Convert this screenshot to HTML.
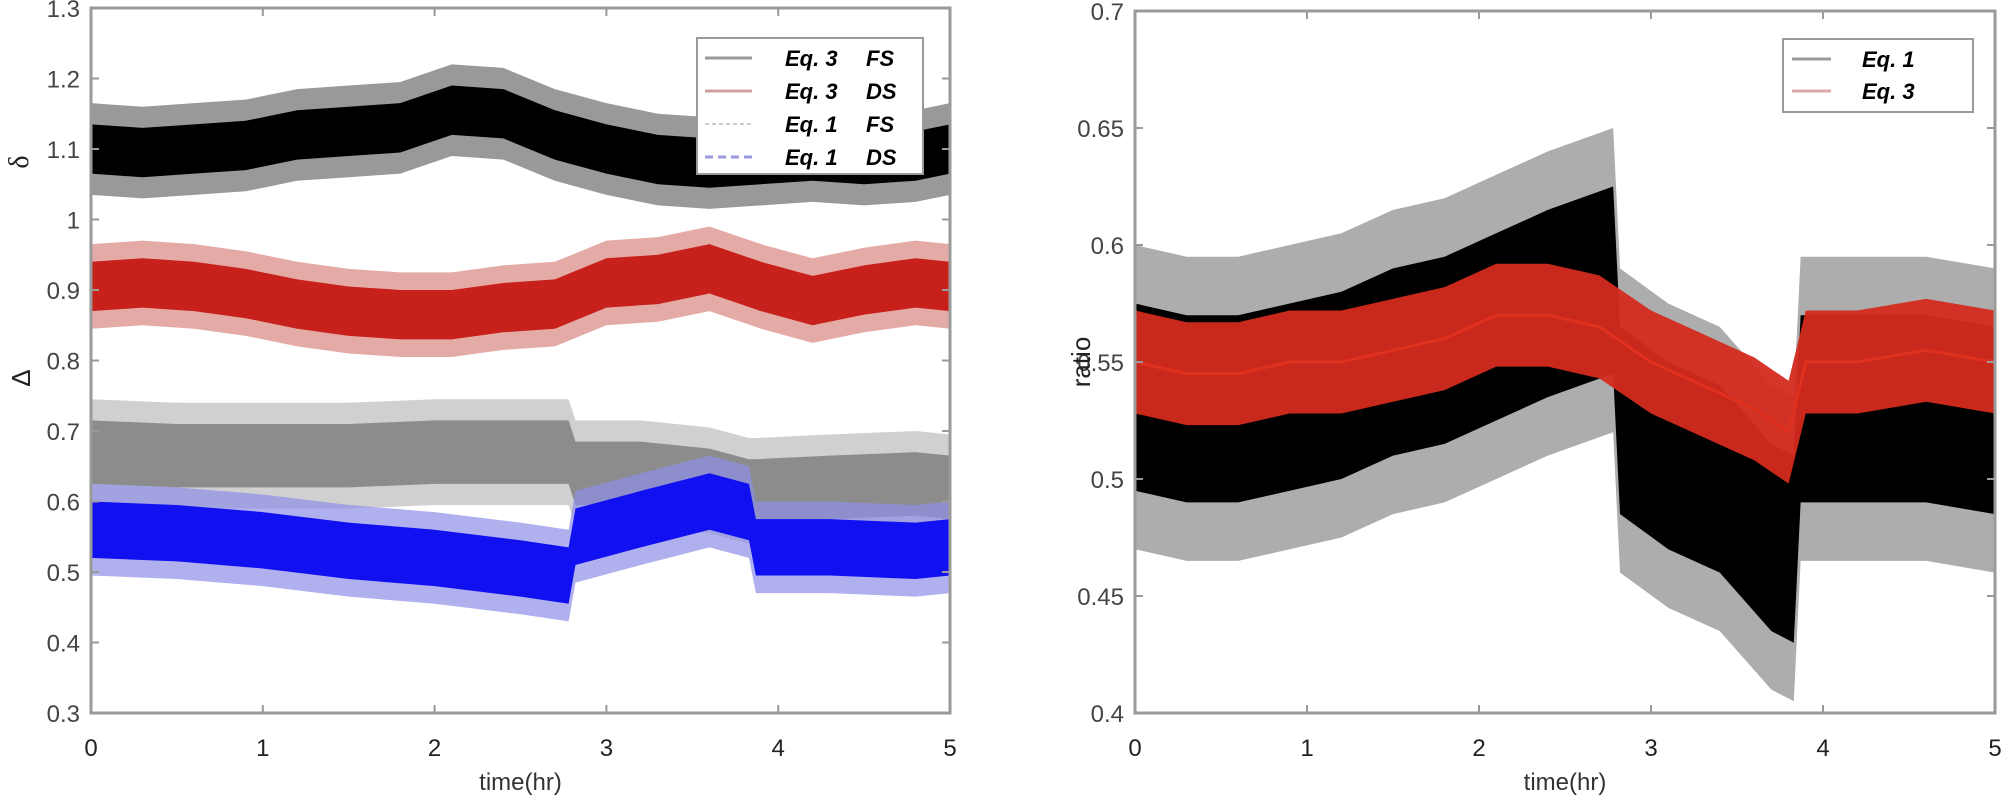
<!DOCTYPE html>
<html><head><meta charset="utf-8"><style>
html,body{margin:0;padding:0;background:#fff;width:2001px;height:809px;overflow:hidden}
svg{display:block;font-family:"Liberation Sans",sans-serif}
</style></head><body>
<svg id="c" width="2001" height="809"></svg>
<script>
// ---------- data ----------
const xTicks=[0,1,2,3,4,5];
const yTicksL=[0.3,0.4,0.5,0.6,0.7,0.8,0.9,1,1.1,1.2,1.3];
const yTicksR=[0.4,0.45,0.5,0.55,0.6,0.65,0.7];
// left panel
const tBlack=[0,0.3,0.6,0.9,1.2,1.5,1.8,2.1,2.4,2.7,3.0,3.3,3.6,3.9,4.2,4.5,4.8,5];
const cBlack=[1.10,1.095,1.10,1.105,1.12,1.125,1.13,1.155,1.15,1.12,1.10,1.085,1.08,1.085,1.09,1.085,1.09,1.10];
const tRed=[0,0.3,0.6,0.9,1.2,1.5,1.8,2.1,2.4,2.7,3.0,3.3,3.6,3.9,4.2,4.5,4.8,5];
const cRed=[0.905,0.91,0.905,0.895,0.88,0.87,0.865,0.865,0.875,0.88,0.91,0.915,0.93,0.905,0.885,0.9,0.91,0.905];
const tGray=[0,0.5,1,1.5,2,2.5,2.78,2.82,3.2,3.6,3.83,3.87,4.3,4.8,5];
const cGray=[0.67,0.665,0.665,0.665,0.67,0.67,0.67,0.64,0.64,0.63,0.615,0.615,0.62,0.625,0.62];
const tBlue=[0,0.5,1,1.5,2,2.5,2.78,2.82,3.2,3.6,3.83,3.87,4.3,4.8,5];
const cBlue=[0.56,0.555,0.545,0.53,0.52,0.505,0.495,0.55,0.575,0.6,0.585,0.535,0.535,0.53,0.535];
// right panel
const tR1=[0,0.3,0.6,0.9,1.2,1.5,1.8,2.1,2.4,2.78,2.82,3.1,3.4,3.7,3.83,3.87,4.2,4.6,5];
const cR1=[0.535,0.53,0.53,0.535,0.54,0.55,0.555,0.565,0.575,0.585,0.525,0.51,0.5,0.475,0.47,0.53,0.53,0.53,0.525];
const tR3=[0,0.3,0.6,0.9,1.2,1.5,1.8,2.1,2.4,2.7,3.0,3.3,3.6,3.8,3.9,4.2,4.6,5];
const cR3=[0.55,0.545,0.545,0.55,0.55,0.555,0.56,0.57,0.57,0.565,0.55,0.54,0.53,0.52,0.55,0.55,0.555,0.55];

// ---------- scales ----------
const L={x0:91,x1:950,y0:713,y1:8,ymin:0.3,ymax:1.3};
const R={x0:1135,x1:1995,y0:713,y1:11,ymin:0.4,ymax:0.7};
const sx=(p,v)=>p.x0+(v/5)*(p.x1-p.x0);
const sy=(p,v)=>p.y0-(v-p.ymin)/(p.ymax-p.ymin)*(p.y0-p.y1);
const NS="http://www.w3.org/2000/svg";
const svg=document.getElementById('c');
function mk(tag,attrs,parent){const e=document.createElementNS(NS,tag);for(const k in attrs)e.setAttribute(k,attrs[k]);(parent||svg).appendChild(e);return e;}

function band(p,t,c,half,fill,name,op){
  let up=t.map((v,i)=>sx(p,v)+','+sy(p,c[i]+half)).join(' ');
  let dn=t.map((v,i)=>sx(p,v)+','+sy(p,c[i]-half)).reverse().join(' ');
  const e=mk('polygon',{points:up+' '+dn,fill:fill,'fill-opacity':op});
  
  
}
function line(p,t,c,stroke,name,w){
  const e=mk('polyline',{points:t.map((v,i)=>sx(p,v)+','+sy(p,c[i])).join(' '),fill:'none',stroke:stroke,'stroke-width':w});
  
  
}
function axes(p,yt,name,fmt){
  const g=mk('g',{});
  
  
  mk('rect',{x:p.x0,y:p.y1,width:p.x1-p.x0,height:p.y0-p.y1,fill:'none',stroke:'#9a9a9a','stroke-width':3},g);
  xTicks.forEach(v=>{
    const x=sx(p,v);
    mk('line',{x1:x,x2:x,y1:p.y0,y2:p.y0-8,stroke:'#9a9a9a','stroke-width':2},g);
    mk('line',{x1:x,x2:x,y1:p.y1,y2:p.y1+8,stroke:'#9a9a9a','stroke-width':2},g);
    const t=mk('text',{x:x,y:756,'text-anchor':'middle','font-size':24,fill:'#222'},g);t.textContent=v;
    
    
  });
  yt.forEach(v=>{
    const y=sy(p,v);
    mk('line',{x1:p.x0,x2:p.x0+8,y1:y,y2:y,stroke:'#9a9a9a','stroke-width':2},g);
    mk('line',{x1:p.x1,x2:p.x1-8,y1:y,y2:y,stroke:'#9a9a9a','stroke-width':2},g);
    const t=mk('text',{x:p.x0-11,y:y+9,'text-anchor':'end','font-size':24,fill:'#444'},g);t.textContent=fmt(v);
    
    
  });
  const xl=mk('text',{x:(p.x0+p.x1)/2,y:790,'text-anchor':'middle','font-size':24,fill:'#333'},g);xl.textContent='time(hr)';
  
  
}
// left series
band(L,tBlack,cBlack,0.065,'#555','black-eq3-fs-spikes',0.6);
band(L,tBlack,cBlack,0.035,'#000','black-eq3-fs',1);
band(L,tRed,cRed,0.06,'#d98880','red-eq3-ds-spikes',0.7);
band(L,tRed,cRed,0.035,'#c8201a','red-eq3-ds',1);
band(L,tGray,cGray,0.075,'#c4c4c4','gray-eq1-fs-spikes',0.8);
band(L,tGray,cGray,0.045,'#8c8c8c','gray-eq1-fs',1);
band(L,tBlue,cBlue,0.065,'#8f8fe8','blue-eq1-ds-spikes',0.7);
band(L,tBlue,cBlue,0.04,'#1010f0','blue-eq1-ds',1);
// right series
band(R,tR1,cR1,0.065,'#777','black-eq1-spikes',0.6);
band(R,tR1,cR1,0.04,'#000','black-eq1',1);
band(R,tR3,cR3,0.022,'#d42a1e','red-eq3',0.95);
line(R,tR3,cR3,'#e03020','red-eq3-center',3);

axes(L,yTicksL,'left-axes',v=>String(+v.toFixed(1)));
axes(R,yTicksR,'right-axes',v=>String(+v.toFixed(2)));
</script>
<svg width="2001" height="809" style="position:absolute;left:0;top:0">
<text x="28" y="162" transform="rotate(-90 28 162)" font-size="28" fill="#222" text-anchor="middle" font-family="Liberation Serif, serif">δ</text>
<text x="30" y="378" transform="rotate(-90 30 378)" font-size="26" fill="#222" text-anchor="middle" font-family="Liberation Sans, sans-serif">Δ</text>
<text x="1090" y="362" transform="rotate(-90 1090 362)" font-size="26" fill="#222" text-anchor="middle" font-family="Liberation Sans, sans-serif">ratio</text>
<g>
<rect x="697" y="38" width="226" height="136" fill="#fff" stroke="#999" stroke-width="2"/>
<line x1="705" x2="752" y1="58" y2="58" stroke="#999" stroke-width="3"/>
<line x1="705" x2="752" y1="91" y2="91" stroke="#cfa0a0" stroke-width="3"/>
<line x1="705" x2="752" y1="124" y2="124" stroke="#ccc" stroke-width="2" stroke-dasharray="4 3"/>
<line x1="705" x2="752" y1="157" y2="157" stroke="#9a9ae0" stroke-width="3" stroke-dasharray="8 5"/>
<g font-size="22" font-weight="bold" font-style="italic" fill="#000">
<text x="785" y="66">Eq. 3</text><text x="866" y="66">FS</text>
<text x="785" y="99">Eq. 3</text><text x="866" y="99">DS</text>
<text x="785" y="132">Eq. 1</text><text x="866" y="132">FS</text>
<text x="785" y="165">Eq. 1</text><text x="866" y="165">DS</text>
</g></g>
<g>
<rect x="1783" y="39" width="190" height="73" fill="#fff" stroke="#999" stroke-width="2"/>
<line x1="1792" x2="1831" y1="59" y2="59" stroke="#999" stroke-width="3"/>
<line x1="1792" x2="1831" y1="91" y2="91" stroke="#d8a8a8" stroke-width="3"/>
<g font-size="22" font-weight="bold" font-style="italic" fill="#000">
<text x="1862" y="67">Eq. 1</text><text x="1862" y="99">Eq. 3</text>
</g></g>
</svg>
</body></html>
